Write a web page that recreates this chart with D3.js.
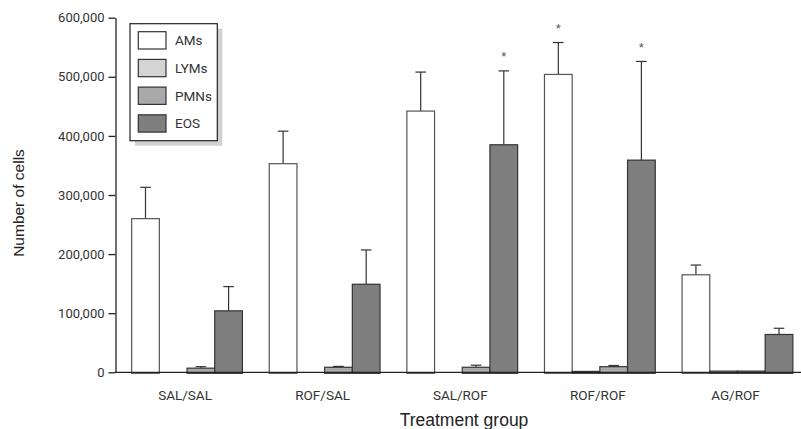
<!DOCTYPE html>
<html>
<head>
<meta charset="utf-8">
<script src="https://cdn.jsdelivr.net/npm/d3@7"></script>
<style>
    html, body { margin: 0; padding: 0; background: #fff; }
    svg { display: block; }
    .tick text, .cat, .leg { font-family: Roboto, "Liberation Sans", sans-serif; fill: #333; }
    .title { font-family: "Liberation Sans", Arial, sans-serif; fill: #222; }
</style>
</head>
<body>
<div id="chart"></div>
<script>
document.addEventListener("DOMContentLoaded", function () {

    const groups = ["SAL/SAL", "ROF/SAL", "SAL/ROF", "ROF/ROF", "AG/ROF"];
    const series = ["AMs", "LYMs", "PMNs", "EOS"];

    // means and upper error per series, in group order
    const ams = [260000, 353000, 442000, 504000, 165000],
        amsErr = [53000, 55000, 66000, 54000, 16500];
    const lyms = [0, 0, 0, 1500, 2000],
        lymsErr = [0, 0, 0, 0, 0];
    const pmns = [7000, 8500, 8500, 9500, 2000],
        pmnsErr = [2500, 1500, 3500, 2000, 0];
    const eos = [104000, 149000, 385000, 359000, 64000],
        eosErr = [41000, 58000, 125000, 167000, 10500];

    const yTicks = [0, 100000, 200000, 300000, 400000, 500000, 600000];

    // bars marked with an asterisk
    const starred = [["SAL/ROF", "EOS"], ["ROF/ROF", "AMs"], ["ROF/ROF", "EOS"]];

    const values = {AMs: ams, LYMs: lyms, PMNs: pmns, EOS: eos},
        errors = {AMs: amsErr, LYMs: lymsErr, PMNs: pmnsErr, EOS: eosErr};

    const width = 801, height = 429;

    const color = d3.scaleOrdinal()
        .domain(series)
        .range(["#ffffff", "#d4d4d4", "#a9a9a9", "#7f7f7f"]);

    const x0 = d3.scaleBand()
        .domain(groups)
        .range([115, 809.5])
        .paddingInner(0.195)
        .paddingOuter(0.121);

    const x1 = d3.scaleBand()
        .domain(series)
        .range([0, x0.bandwidth()]);

    const y = d3.scaleLinear()
        .domain([0, 600000])
        .range([372.3, 17.7]);

    const svg = d3.select("#chart")
        .append("svg")
        .attr("width", width)
        .attr("height", height);

    // rows of {group, key, value, err}
    let rows = [];
    groups.forEach(function (g, i) {
        series.forEach(function (s) {
            rows.push({group: g, key: s, value: values[s][i], err: errors[s][i]});
        });
    });

    let isStarred = function (d) {
        return starred.some(p => p[0] === d.group && p[1] === d.key);
    };

    // error bars (drawn first so bars sit over the stem)
    let eb = svg.append("g")
        .attr("stroke", "#333")
        .attr("stroke-width", 1.2);

    rows.filter(d => d.err > 0).forEach(function (d) {
        let cx = x0(d.group) + x1(d.key) + x1.bandwidth() / 2;
        eb.append("line")
            .attr("x1", cx).attr("x2", cx)
            .attr("y1", y(d.value)).attr("y2", y(d.value + d.err));
        eb.append("line")
            .attr("x1", cx - 5.3).attr("x2", cx + 5.3)
            .attr("y1", y(d.value + d.err)).attr("y2", y(d.value + d.err));
    });

    // bars
    svg.append("g")
        .selectAll("rect")
        .data(rows.filter(d => d.value > 0))
        .join("rect")
        .attr("x", d => x0(d.group) + x1(d.key))
        .attr("y", d => y(d.value))
        .attr("width", x1.bandwidth())
        .attr("height", d => y(0) - y(d.value) + 1)
        .attr("fill", d => color(d.key))
        .attr("stroke", d => d.key === "AMs" ? "#555" : "#333")
        .attr("stroke-width", 1.2);

    // significance marks
    svg.append("g")
        .selectAll("text")
        .data(rows.filter(isStarred))
        .join("text")
        .attr("class", "title")
        .attr("x", d => x0(d.group) + x1(d.key) + x1.bandwidth() / 2)
        .attr("y", d => y(d.value + d.err) - 17.5 + 8)
        .attr("text-anchor", "middle")
        .style("font-size", "13px")
        .style("fill", "#555")
        .text("*");

    // y axis
    let yAxis = svg.append("g")
        .attr("transform", "translate(115.5,0)")
        .call(d3.axisLeft(y)
            .tickValues(yTicks)
            .tickFormat(d3.format(","))
            .tickSize(7)
            .tickSizeOuter(0)
            .tickPadding(4));
    yAxis.selectAll("path, line").attr("stroke", "#222").attr("stroke-width", 1.3);
    yAxis.selectAll("text").style("font-size", "13px");

    // x axis line
    svg.append("line")
        .attr("x1", 115).attr("x2", width)
        .attr("y1", y(0)).attr("y2", y(0))
        .attr("stroke", "#222")
        .attr("stroke-width", 1.3);

    // group labels
    svg.append("g")
        .selectAll("text")
        .data(groups)
        .join("text")
        .attr("class", "cat")
        .attr("x", d => x0(d) + x0.bandwidth() / 2 - 2)
        .attr("y", 400)
        .attr("text-anchor", "middle")
        .style("font-size", "13.5px")
        .text(d => d);

    // axis titles
    svg.append("text")
        .attr("class", "title")
        .attr("x", 464)
        .attr("y", 426)
        .attr("text-anchor", "middle")
        .style("font-size", "17.5px")
        .text("Treatment group");

    svg.append("text")
        .attr("class", "title")
        .attr("transform", "translate(24,203) rotate(-90)")
        .attr("text-anchor", "middle")
        .style("font-size", "15.5px")
        .text("Number of cells");

    // legend
    let lg = svg.append("g").attr("transform", "translate(130,23.7)");
    lg.append("rect")
        .attr("x", 5).attr("y", 5)
        .attr("width", 87.3).attr("height", 117)
        .attr("fill", "#d0d0d0");
    lg.append("rect")
        .attr("width", 87.3).attr("height", 117)
        .attr("fill", "#fff")
        .attr("stroke", "#222")
        .attr("stroke-width", 1.2);

    let item = lg.selectAll("g.item")
        .data(series)
        .join("g")
        .attr("class", "item")
        .attr("transform", (d, i) => "translate(8.3," + (8 + i * 27.7) + ")");
    item.append("rect")
        .attr("width", 27.7).attr("height", 17.3)
        .attr("fill", d => color(d))
        .attr("stroke", "#333")
        .attr("stroke-width", 1.2);
    item.append("text")
        .attr("class", "leg")
        .attr("x", 36.7)
        .attr("y", 13.5)
        .style("font-size", "13.5px")
        .text(d => d);

});
</script>
</body>
</html>
